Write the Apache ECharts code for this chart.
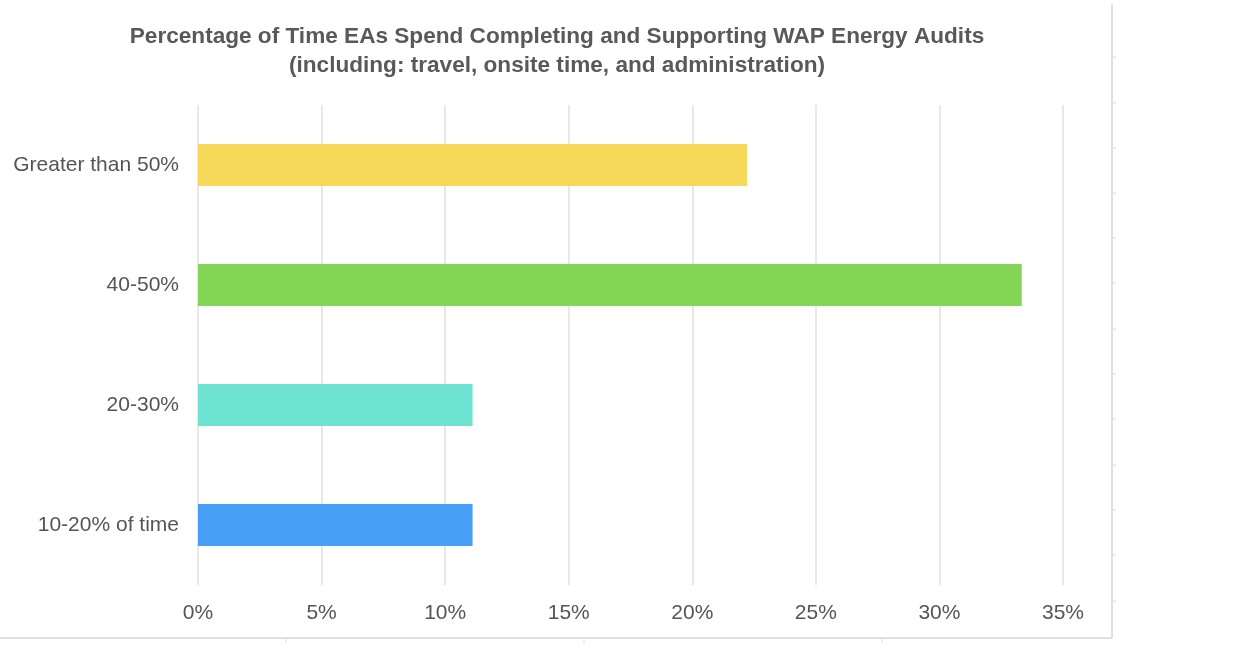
<!DOCTYPE html>
<html>
<head>
<meta charset="utf-8">
<script src="https://cdn.jsdelivr.net/npm/echarts@6/dist/echarts.min.js"></script>
<style>html,body{margin:0;padding:0;background:#fff;}#c{width:1237px;height:664px;}</style>
</head>
<body>
<div id="c"></div>
<script>
const categories = ['10-20% of time', '20-30%', '40-50%', 'Greater than 50%'];
const values = [11.11, 11.11, 33.33, 22.22];
const barColors = ['#479FF5', '#6EE3D1', '#83D655', '#F7D959'];
const titleLines = ['Percentage of Time EAs Spend Completing and Supporting WAP Energy Audits', '(including: travel, onsite time, and administration)'];

const chart = echarts.init(document.getElementById('c'), null, {renderer: 'canvas'});
const font = '"Liberation Sans", Arial, Helvetica, sans-serif';
const frameTicksY = [57, 103, 148, 193, 238, 283, 329, 374, 419, 465, 510, 555, 601];
const frameTicksX = [286, 584, 882];
const graphics = [
  {type: 'line', shape: {x1: 1112, y1: 4, x2: 1112, y2: 638}, style: {stroke: '#d6d6d6', lineWidth: 1.5}, silent: true},
  {type: 'line', shape: {x1: 0, y1: 638, x2: 1112, y2: 638}, style: {stroke: '#d6d6d6', lineWidth: 1.5}, silent: true}
];
frameTicksY.forEach(y => graphics.push({type: 'line', shape: {x1: 1112, y1: y, x2: 1116, y2: y}, style: {stroke: '#dddddd', lineWidth: 1}, silent: true}));
frameTicksX.forEach(x => graphics.push({type: 'line', shape: {x1: x, y1: 638, x2: x, y2: 643}, style: {stroke: '#dddddd', lineWidth: 1}, silent: true}));

chart.setOption({
  backgroundColor: '#ffffff',
  animation: false,
  title: {
    text: titleLines.join('\n'),
    left: 552,
    textAlign: 'center',
    top: 17,
    textStyle: {fontFamily: font, fontSize: 22.6, fontWeight: 'bold', color: '#595959', lineHeight: 29}
  },
  grid: {left: 198, right: 174, top: 105, bottom: 79, containLabel: false},
  xAxis: {
    type: 'value',
    min: 0, max: 35, interval: 5,
    axisLine: {show: false},
    axisTick: {show: false},
    axisLabel: {formatter: '{value}%', fontFamily: font, fontSize: 21, color: '#555555', margin: 18},
    splitLine: {show: true, lineStyle: {color: '#e0e0e0', width: 1.5}}
  },
  yAxis: {
    type: 'category',
    data: categories,
    axisLine: {show: false},
    axisTick: {show: false},
    axisLabel: {fontFamily: font, fontSize: 21, color: '#555555', margin: 19},
    splitLine: {show: false}
  },
  series: [{
    type: 'bar',
    data: values.map((v, i) => ({value: v, itemStyle: {color: barColors[i]}})),
    barWidth: '35%',
    label: {show: false}
  }],
  graphic: graphics
});
</script>
</body>
</html>
